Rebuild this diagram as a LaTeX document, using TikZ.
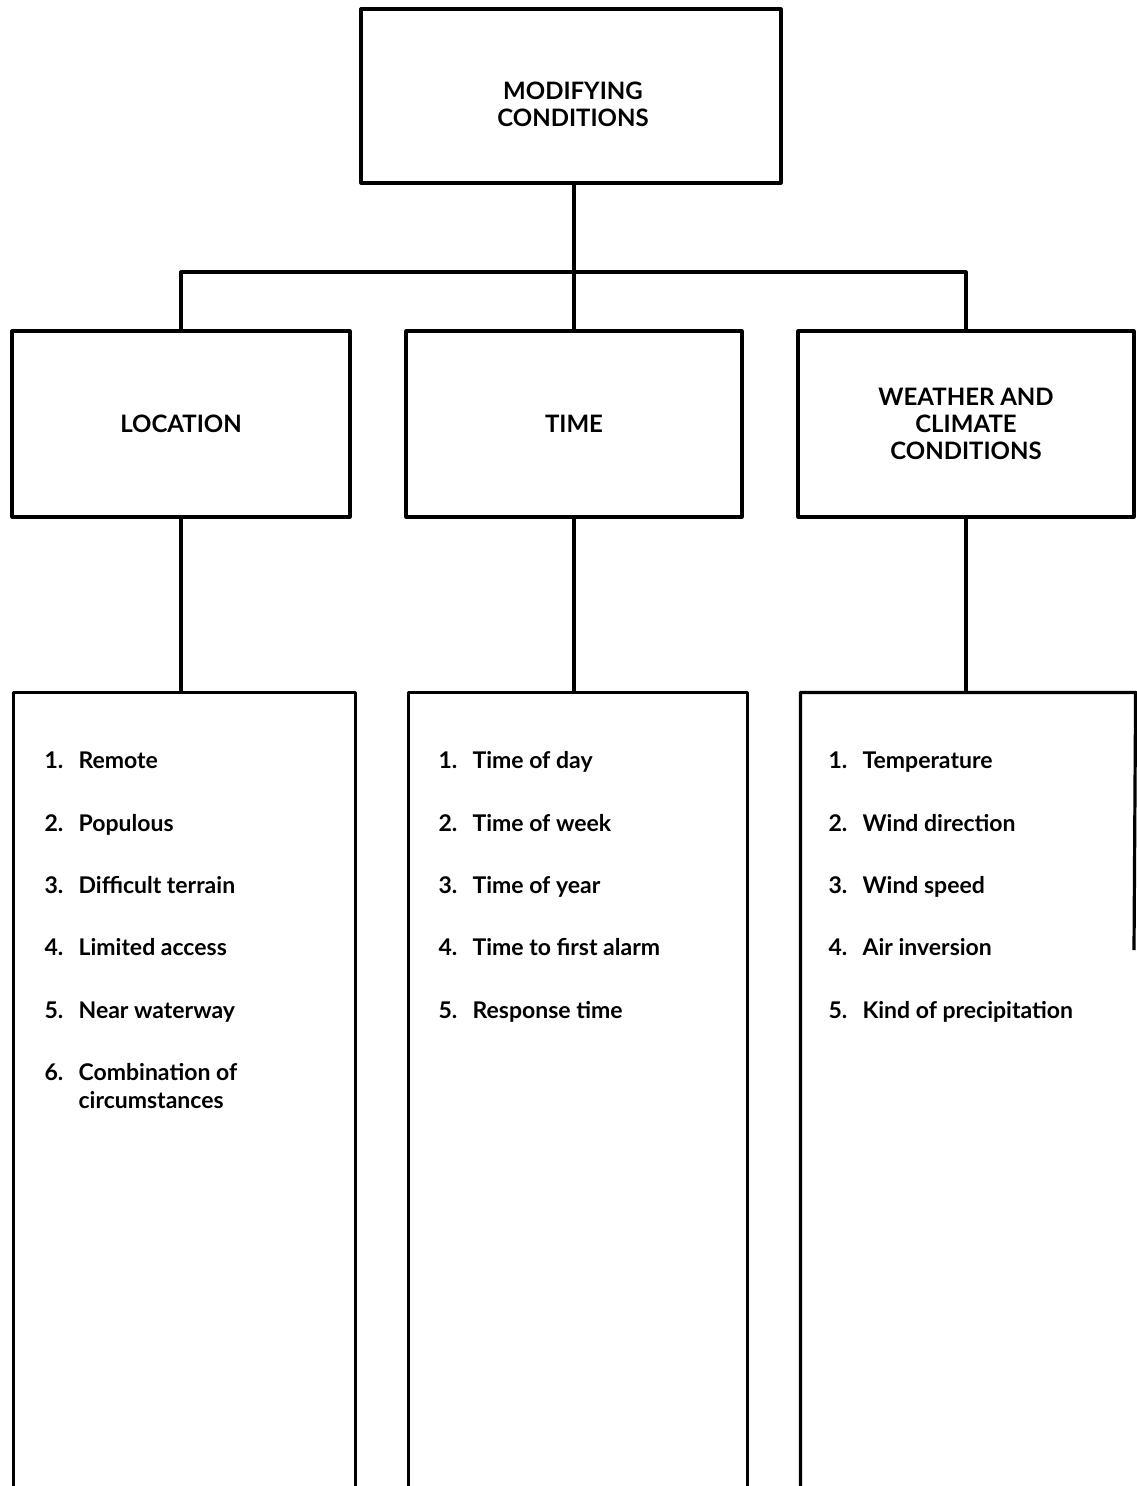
\documentclass[tikz,border=0pt]{standalone}
\usepackage{fontspec}
\setmainfont{Lato}
\begin{document}
\begin{tikzpicture}[x=1pt,y=-1pt,
  line width=3.2pt, line join=round,
  hbox/.style={draw, rectangle, inner sep=0pt, align=center, font=\fontsize{24}{27}\selectfont\bfseries},
  lbox/.style={rectangle, inner sep=0pt},
  itm/.style={anchor=base west, inner sep=0pt, align=left, font=\fontsize{23}{28}\selectfont\bfseries}]
\newcommand\li[2]{\makebox[34pt][l]{#1}#2}
\useasboundingbox (0,0) rectangle (1136,1486);
% top box
\node[hbox, minimum width=420, minimum height=174] (top) at (571,96) {};
\node[inner sep=0pt, align=center, font=\fontsize{24}{27}\selectfont\bfseries] (topt) at (573,104) {MODIFYING\\CONDITIONS};
% middle boxes
\node[hbox, minimum width=338, minimum height=186] (loc) at (181,424) {LOCATION};
\node[hbox, minimum width=336, minimum height=186] (tim) at (574,424) {TIME};
\node[hbox, minimum width=336, minimum height=186] (wea) at (966,424) {WEATHER AND\\CLIMATE\\CONDITIONS};
% bottom boxes (open at bottom)
\node[lbox, minimum width=339, minimum height=800] (l1) at (184.5,1094) {};
\node[lbox, minimum width=336, minimum height=800] (l2) at (578,1094) {};
\node[lbox, minimum width=332, minimum height=800] (l3) at (968,1094) {};
\coordinate (l3r) at (1134,950);
\draw (l1.south west) -- (l1.north west) -- (l1.north east) -- (l1.south east);
\draw (l2.south west) -- (l2.north west) -- (l2.north east) -- (l2.south east);
\draw (l3.south west) -- (l3.north west) -- (l3.north east) -- (l3r);
% connectors
\coordinate (bus) at (574,272);
\draw (tim.north) -- (tim.north |- top.south);
\draw (loc.north) |- (wea.north |- bus) -- (wea.north);
\draw (loc.south) -- (loc.south |- l1.north);
\draw (tim.south) -- (tim.south |- l2.north);
\draw (wea.south) -- (wea.south |- l3.north);
% location items
\node[itm] (a1) at (43,768) {\li{1.}{Remote}};
\node[itm] (a2) at (43,831) {\li{2.}{Populous}};
\node[itm] (a3) at (43,893) {\li{3.}{Difficult terrain}};
\node[itm] (a4) at (43,955) {\li{4.}{Limited access}};
\node[itm] (a5) at (43,1018) {\li{5.}{Near waterway}};
\node[itm] (a6) at (43,1108) {\li{6.}{Combination of}\\\hspace*{34pt}circumstances};
% time items
\node[itm] (b1) at (437,768) {\li{1.}{Time of day}};
\node[itm] (b2) at (437,831) {\li{2.}{Time of week}};
\node[itm] (b3) at (437,893) {\li{3.}{Time of year}};
\node[itm] (b4) at (437,955) {\li{4.}{Time to first alarm}};
\node[itm] (b5) at (437,1018) {\li{5.}{Response time}};
% weather items
\node[itm] (c1) at (827,768) {\li{1.}{Temperature}};
\node[itm] (c2) at (827,831) {\li{2.}{Wind direction}};
\node[itm] (c3) at (827,893) {\li{3.}{Wind speed}};
\node[itm] (c4) at (827,955) {\li{4.}{Air inversion}};
\node[itm] (c5) at (827,1018) {\li{5.}{Kind of precipitation}};
\end{tikzpicture}
\end{document}
